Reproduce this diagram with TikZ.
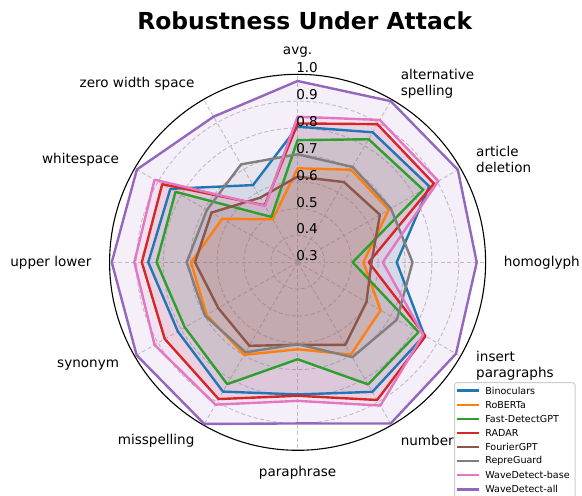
\documentclass[tikz,border=0pt]{standalone}
\usepackage{fontspec}
\setmainfont{DejaVu Sans}
\usetikzlibrary{positioning}
\definecolor{tabblue}{HTML}{1F77B4}
\definecolor{taborange}{HTML}{FF7F0E}
\definecolor{tabgreen}{HTML}{2CA02C}
\definecolor{tabred}{HTML}{D62728}
\definecolor{tabbrown}{HTML}{8C564B}
\definecolor{tabgray}{HTML}{7F7F7F}
\definecolor{tabpink}{HTML}{E377C2}
\definecolor{tabpurple}{HTML}{9467BD}
\definecolor{gridgray}{HTML}{C4C4C4}
\definecolor{legendedge}{HTML}{CCCCCC}
\tikzstyle{gridline}=[draw=gridgray, line width=0.9bp, dash pattern=on 4bp off 2.5bp]
\tikzstyle{series}=[line width=2.4bp, line join=round]
\tikzstyle{seriesfill}=[fill opacity=0.1]
\tikzstyle{axislabel}=[inner sep=0pt, font=\fontsize{13.6}{16}\selectfont]
\tikzstyle{ticklabel}=[inner sep=0pt, anchor=west, font=\fontsize{13.6}{16}\selectfont]
\tikzstyle{legendtext}=[inner sep=0pt, anchor=west, font=\fontsize{9.6}{11}\selectfont]
\tikzstyle{legendbox}=[draw=legendedge, line width=1bp, fill=white, fill opacity=0.8, rounded corners=2.5bp]
% corner points of one detector, values in axis order starting at avg.
\newcommand{\methodpts}[2]{%
  \foreach \v [count=\i] in {#2}
    \coordinate (#1\i) at ({120-30*\i}:{(\v-0.3)*268.57});
}
\begin{document}
\begin{tikzpicture}[x=1bp, y=1bp]
\useasboundingbox (-297.6,-233.7) rectangle (284.4,262.3);
\clip (-297.6,-233.7) rectangle (284.4,262.3);
% grid
\foreach \v in {0.4,0.5,0.6,0.7,0.8,0.9}
  \draw[gridline] (0,0) circle [radius={(\v-0.3)*268.57}];
\foreach \a in {0,30,...,330}
  \draw[gridline] (0,0) -- (\a:188);
\draw[line width=1.1bp] (0,0) circle [radius=188];
% detectors
\methodpts{bin}{0.805,0.859,0.866,0.669,0.845,0.857,0.792,0.856,0.815,0.856,0.847,0.632}
\methodpts{rob}{0.650,0.698,0.692,0.545,0.657,0.697,0.624,0.698,0.691,0.697,0.624,0.485}
\methodpts{fast}{0.755,0.829,0.840,0.505,0.820,0.825,0.661,0.824,0.785,0.825,0.825,0.495}
\methodpts{radar}{0.817,0.894,0.886,0.565,0.850,0.892,0.797,0.888,0.871,0.880,0.882,0.545}
\methodpts{four}{0.619,0.645,0.654,0.575,0.596,0.655,0.607,0.659,0.641,0.682,0.670,0.578}
\methodpts{repre}{0.702,0.710,0.701,0.728,0.727,0.708,0.605,0.687,0.698,0.713,0.690,0.721}
\methodpts{wbase}{0.842,0.912,0.905,0.617,0.840,0.916,0.816,0.912,0.915,0.908,0.915,0.542}
\methodpts{wall}{0.975,0.993,0.989,0.967,0.981,0.993,0.900,0.995,0.992,0.992,0.991,0.926}
% fills first, lines on top
\foreach \m/\col in {bin/tabblue, rob/taborange, fast/tabgreen, radar/tabred, four/tabbrown, repre/tabgray, wbase/tabpink, wall/tabpurple}
  \fill[seriesfill, fill=\col] (\m1) \foreach \j in {2,...,12} { -- (\m\j) } -- cycle;
\foreach \m/\col in {bin/tabblue, rob/taborange, fast/tabgreen, radar/tabred, four/tabbrown, repre/tabgray, wbase/tabpink, wall/tabpurple}
  \draw[series, draw=\col] (\m1) \foreach \j in {2,...,12} { -- (\m\j) } -- cycle;
% radial ticks
\foreach \v in {0.3,0.4,0.5,0.6,0.7,0.8,0.9,1.0}
  \node[ticklabel] (tick\v) at (-1.5,{(\v-0.3)*268.57+6.5}) {\v};
% axis labels
\node[axislabel] (lab0) at (90:210.5) {avg.};
\node[axislabel, anchor=west, align=left] (lab1) at (60:206) {alternative\\spelling};
\node[axislabel, anchor=west, align=left] (lab2) at (30:206) {article\\deletion};
\node[axislabel, anchor=west] (lab3) at (0:206) {homoglyph};
\node[axislabel, anchor=west, align=left] (lab4) at (-30:206) {insert\\paragraphs};
\node[axislabel, anchor=west] (lab5) at (-60:206) {number};
\node[axislabel] (lab6) at (-90:210.7) {paraphrase};
\node[axislabel, anchor=east] (lab7) at (-120:206) {misspelling};
\node[axislabel, anchor=east] (lab8) at (-150:206) {synonym};
\node[axislabel, anchor=east] (lab9) at (180:206) {upper lower};
\node[axislabel, anchor=east] (lab10) at (150:206) {whitespace};
\node[axislabel, anchor=east] (lab11) at (120:206) {zero width space};
% title
\node[anchor=base, inner sep=0pt, font=\fontsize{23.5}{28}\selectfont\bfseries] (title) at (7.2,233) {Robustness Under Attack};
% legend
\draw[legendbox] (156.9,-120.4) rectangle (277.4,-245);
\foreach \name/\col [count=\i] in {Binoculars/tabblue, RoBERTa/taborange, Fast-DetectGPT/tabgreen, RADAR/tabred, FourierGPT/tabbrown, RepreGuard/tabgray, WaveDetect-base/tabpink, WaveDetect-all/tabpurple} {
  \coordinate (la\i) at (159.4,{-128.4-14.09*(\i-1)});
  \coordinate (lb\i) at (181.7,{-128.4-14.09*(\i-1)});
  \draw[line width=2.4bp, draw=\col] (la\i) -- (lb\i);
  \node[legendtext, right=5.8bp of lb\i] (leg\i) {\name};
}
\end{tikzpicture}
\end{document}
